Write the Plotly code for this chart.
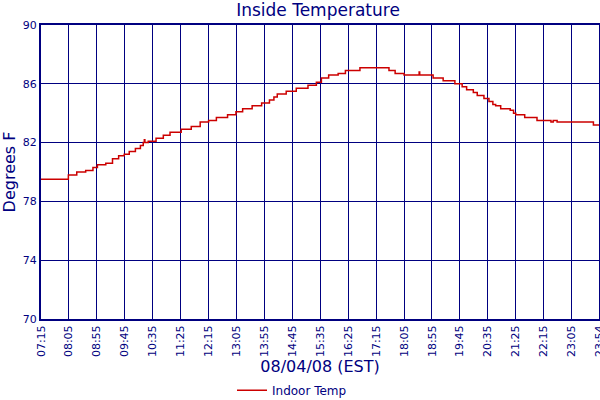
import pandas as pd
import plotly.graph_objects as go

# Step readings (time the value changed, deg F)
times = ["07:15", "08:04", "08:19", "08:35", "08:48", "08:56", "09:11", "09:23",
         "09:34", "09:44", "09:53", "10:04", "10:13", "10:18", "10:20", "10:21",
         "10:27", "10:41", "10:54", "11:06", "11:26", "11:44", "12:00", "12:15",
         "12:29", "12:49", "13:04", "13:16", "13:33", "13:50", "14:04", "14:12",
         "14:18", "14:34", "14:52", "15:13", "15:28", "15:37", "15:50", "16:07",
         "16:20", "16:46", "17:38", "17:49", "18:05", "18:32", "18:33", "18:57",
         "19:15", "19:36", "19:49", "19:57", "20:09", "20:16", "20:28", "20:37",
         "20:44", "20:49", "20:58", "21:15", "21:21", "21:25", "21:41", "22:03",
         "22:28", "22:32", "22:39", "23:44", "23:54"]
temps = [79.5, 79.8, 80.0, 80.1, 80.3, 80.5, 80.6, 80.9,
         81.1, 81.2, 81.4, 81.6, 81.8, 82.0, 82.2, 82.0,
         82.1, 82.3, 82.5, 82.7, 82.9, 83.1, 83.4, 83.5,
         83.7, 83.9, 84.1, 84.3, 84.5, 84.7, 84.9, 85.1,
         85.3, 85.5, 85.7, 85.9, 86.1, 86.4, 86.6, 86.7,
         86.9, 87.1, 86.9, 86.7, 86.6, 86.8, 86.6, 86.4,
         86.2, 86.0, 85.8, 85.6, 85.4, 85.2, 85.0, 84.8,
         84.6, 84.5, 84.3, 84.2, 84.0, 83.9, 83.7, 83.5,
         83.4, 83.5, 83.4, 83.2, 83.2]

tick_labels = ["07:15", "08:05", "08:55", "09:45", "10:35", "11:25", "12:15",
               "13:05", "13:55", "14:45", "15:35", "16:25", "17:15", "18:05",
               "18:55", "19:45", "20:35", "21:25", "22:15", "23:05", "23:54"]

day = "2008-08-04 "
x = pd.to_datetime([day + t for t in times])
tickvals = pd.to_datetime([day + t for t in tick_labels])

navy = "#000080"
font = "DejaVu Sans"

fig = go.Figure()
fig.add_trace(go.Scatter(
    x=x, y=temps, mode="lines", line_shape="hv",
    line=dict(color="#CC0000", width=1.5), name="Indoor Temp"
))

fig.update_layout(
    width=600, height=400,
    margin=dict(l=41, r=1, t=25, b=81, autoexpand=False),
    paper_bgcolor="white", plot_bgcolor="white",
    font=dict(family=font, color=navy),
    title=dict(text="Inside Temperature", x=(318 / 600), xanchor="center",
               y=1 - 10 / 400, yanchor="middle", yref="container",
               font=dict(size=17, color=navy, family=font)),
    showlegend=True,
    legend=dict(orientation="h", x=(292 - 41) / 558, xanchor="center",
                y=-0.242, yanchor="middle", font=dict(size=12, color=navy)),
)

fig.update_xaxes(
    range=[tickvals[0], tickvals[-1]],
    tickvals=tickvals, ticktext=tick_labels, tickangle=-90,
    tickfont=dict(size=11, color=navy), ticks="", ticklabeloverflow="allow",
    showgrid=True, gridcolor=navy, gridwidth=1,
    showline=True, linecolor=navy, linewidth=2, mirror=True,
    title=dict(text="08/04/08 (EST)", font=dict(size=16, color=navy), standoff=5),
    zeroline=False, automargin=False,
)
fig.update_yaxes(
    range=[70, 90], tick0=70, dtick=4,
    tickfont=dict(size=11, color=navy), ticks="",
    showgrid=True, gridcolor=navy, gridwidth=1,
    showline=True, linecolor=navy, linewidth=2, mirror=True,
    title=dict(text="Degrees F", font=dict(size=16, color=navy), standoff=4),
    zeroline=False, automargin=False,
)

fig.write_html("out.html", config={"displayModeBar": False},
               post_script="document.body.style.margin='0';")
